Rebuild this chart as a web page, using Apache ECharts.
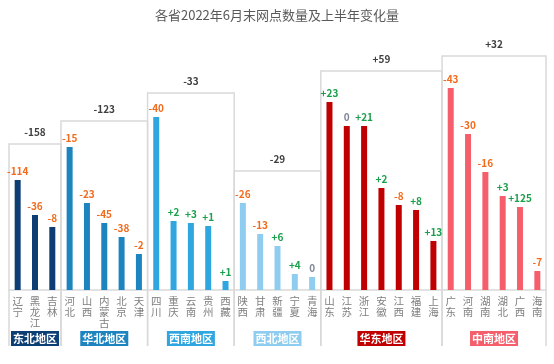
<!DOCTYPE html>
<html><head><meta charset="utf-8">
<script src="https://cdn.jsdelivr.net/npm/echarts@6/dist/echarts.min.js"></script>
<style>html,body{margin:0;padding:0;background:#fff}#c{width:554px;height:364px}</style>
</head><body><div id="c"></div>
<script>
const titleText = '各省2022年6月末网点数量及上半年变化量';
const provinces = ['辽宁','黑龙江','吉林','河北','山西','内蒙古','北京','天津','四川','重庆','云南','贵州','西藏','陕西','甘肃','新疆','宁夏','青海','山东','江苏','浙江','安徽','江西','福建','上海','广东','河南','湖南','湖北','广西','海南'];
const counts = [1100,750,630,1430,870,670,530,360,1730,690,670,640,90,870,560,440,160,130,1880,1640,1640,1020,850,800,490,2020,1560,1180,940,830,190];
const changes = [-114,-36,-8,-15,-23,-45,-38,-2,-40,2,3,1,1,-26,-13,6,4,0,23,0,21,2,-8,8,13,-43,-30,-16,3,125,-7];
const regions = ['东北地区','华北地区','西南地区','西北地区','华东地区','中南地区'];
const regionSizes = [3,5,5,5,7,6];
const regionTotals = [-158,-123,-33,-29,59,32];
const regionBoxTop = [1460,1690,1970,1190,2190,2340];
const regionColors = ['#0c3d73','#1d84c0','#2fa6e0','#8ecdf0','#c00000','#f45f6b'];

const fmt = v => v > 0 ? '+' + v : String(v);
const chgColor = v => v > 0 ? '#1a9f4b' : (v < 0 ? '#f26b1d' : '#7d8797');

const barData = [];
const regionData = [];
let idx = 0;
regions.forEach((r, ri) => {
  const start = idx;
  for (let k = 0; k < regionSizes[ri]; k++, idx++) {
    barData.push({
      value: counts[idx],
      itemStyle: { color: regionColors[ri] },
      label: { formatter: fmt(changes[idx]), color: chgColor(changes[idx]) }
    });
  }
  regionData.push([start, idx - 1, regionBoxTop[ri], regionTotals[ri], ri]);
});

const chart = echarts.init(document.getElementById('c'));
chart.setOption({
  animation: false,
  title: { text: titleText, left: 'center', top: 4,
    textStyle: { fontFamily: 'Noto Sans CJK SC', fontSize: 13, fontWeight: 'normal', color: '#595959' } },
  grid: { left: 9, right: 8, top: 40, bottom: 74, containLabel: false },
  xAxis: {
    type: 'category', data: provinces,
    axisLine: { lineStyle: { color: '#d9d9d9', width: 1.5 } },
    axisTick: { show: false },
    axisLabel: { interval: 0, margin: 6, fontFamily: 'Noto Sans CJK SC', fontSize: 10.5, lineHeight: 11, color: '#7f7f7f',
      formatter: v => v.split('').join('\n') }
  },
  yAxis: { type: 'value', min: 0, max: 2500, show: false, splitLine: { show: false } },
  series: [
    {
      type: 'custom', z: 1, clip: false, silent: true,
      data: regionData,
      encode: { x: 0, y: 2 },
      renderItem: (params, api) => {
        const s = api.value(0), e = api.value(1), top = api.value(2), tot = api.value(3), ri = api.value(4);
        const p1 = api.coord([s, top]);
        const p2 = api.coord([e, top]);
        const bw = api.size([1, 0])[0];
        const x1 = p1[0] - bw / 2, x2 = p2[0] + bw / 2;
        const base = api.coord([s, 0])[1];
        const yb = base + 56;
        const cx = (x1 + x2) / 2;
        return { type: 'group', children: [
          { type: 'polyline', shape: { points: [[x1, yb], [x1, p1[1]], [x2, p1[1]], [x2, yb]] },
            style: { stroke: '#d9d9d9', lineWidth: 1.5, fill: null } },
          { type: 'text', style: { text: fmt(tot), x: cx, y: p1[1] - 12, align: 'center', verticalAlign: 'middle',
            font: 'bold 10px "Noto Sans CJK SC"', fill: '#404040' } },
          { type: 'rect', shape: { x: cx - 24, y: base + 41, width: 48, height: 15 },
            style: { fill: regionColors[ri] } },
          { type: 'text', style: { text: regions[ri], x: cx, y: base + 48.5, align: 'center', verticalAlign: 'middle',
            font: 'bold 11px "Noto Sans CJK SC"', fill: '#ffffff' } }
        ]};
      }
    },
    {
      type: 'bar', z: 2, barWidth: 6, data: barData,
      label: { show: true, position: 'top', distance: 4, fontFamily: 'Noto Sans CJK SC', fontSize: 10, fontWeight: 'bold' }
    }
  ]
});
</script></body></html>
